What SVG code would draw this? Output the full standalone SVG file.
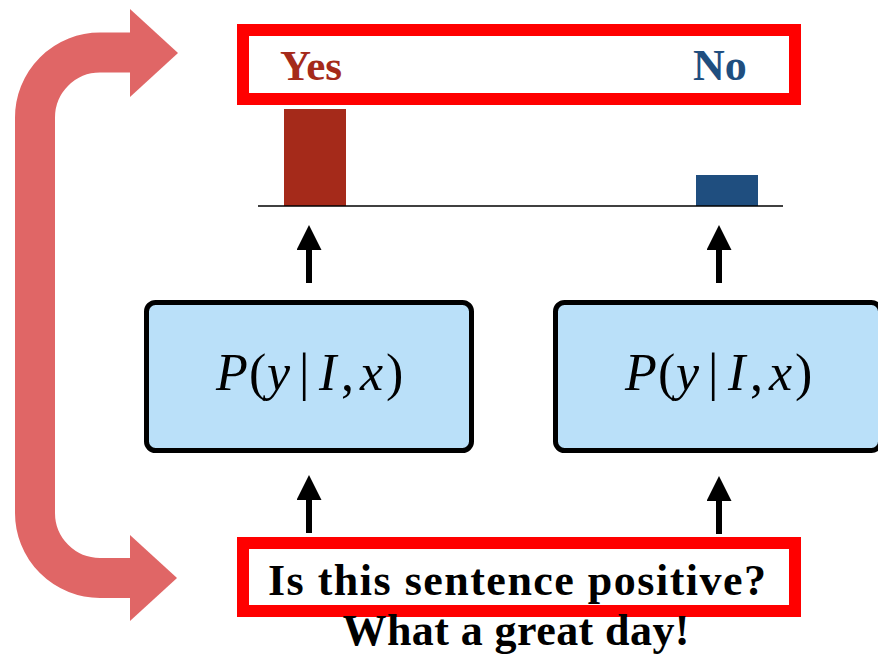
<svg xmlns="http://www.w3.org/2000/svg" width="878" height="654" viewBox="0 0 878 654">
<defs>
<style>
.redbox{fill:#fff;stroke:#ff0000;stroke-width:12}
.model{fill:#bae0f9;stroke:#000;stroke-width:5}
.bold{font-family:"Liberation Serif","Times New Roman",serif;font-weight:bold}
.math{font-family:"Liberation Serif","Times New Roman",serif;font-size:52px;fill:#000}
.it{font-style:italic}
.shaft{stroke:#000;stroke-width:6;fill:none}
.loop{stroke:#e06666;stroke-width:40;fill:none}
.loophead{fill:#e06666}
</style>
<marker id="ah" viewBox="0 0 25 25" refX="0" refY="12.5" markerWidth="25" markerHeight="25" markerUnits="userSpaceOnUse" orient="auto">
<path d="M0,0 L25,12.5 L0,25 z" fill="#000"/>
</marker>
</defs>
<rect width="878" height="654" fill="#fff"/>

<g id="connectors">
<path class="loop" d="M130,52.5 H100 A65,65 0 0 0 35,117.5 V513 A65,65 0 0 0 100,578 H130"/>
<path class="loophead" d="M130,9 L178,53 L130,97 z"/>
<path class="loophead" d="M130,535 L177,578 L130,621 z"/>
<line class="shaft" x1="309" y1="283" x2="309" y2="250" marker-end="url(#ah)"/>
<line class="shaft" x1="719" y1="283" x2="719" y2="250" marker-end="url(#ah)"/>
<line class="shaft" x1="309" y1="533" x2="309" y2="500" marker-end="url(#ah)"/>
<line class="shaft" x1="719" y1="534" x2="719" y2="501" marker-end="url(#ah)"/>
</g>

<g id="output">
<rect class="redbox" x="243" y="30" width="552" height="69"/>
<text class="bold" x="280" y="80" font-size="43" fill="#a52a1a">Yes</text>
<text class="bold" x="693" y="80" font-size="44" fill="#1f4e7f">No</text>
</g>

<g id="chart">
<rect x="284" y="109" width="62" height="97" fill="#a52a1a"/>
<rect x="696" y="175" width="62" height="31" fill="#1f4e7f"/>
<line x1="258" y1="206" x2="783" y2="206" stroke="#000" stroke-width="1.5"/>
</g>

<g id="model-left">
<rect class="model" x="146.5" y="302.5" width="325" height="148" rx="9"/>
<text class="math" y="390"><tspan class="it" x="216">P</tspan><tspan x="249">(</tspan><tspan class="it" x="267">y</tspan><tspan x="299">|</tspan><tspan class="it" x="319">I</tspan><tspan x="341">,</tspan><tspan class="it" x="360">x</tspan><tspan x="386">)</tspan></text>
</g>

<g id="model-right">
<rect class="model" x="555.5" y="302.5" width="325" height="148" rx="9"/>
<text class="math" y="390"><tspan class="it" x="625">P</tspan><tspan x="658">(</tspan><tspan class="it" x="676">y</tspan><tspan x="708">|</tspan><tspan class="it" x="728">I</tspan><tspan x="750">,</tspan><tspan class="it" x="769">x</tspan><tspan x="795">)</tspan></text>
</g>

<g id="input">
<rect class="redbox" x="243" y="543" width="552" height="68"/>
<text class="bold" x="517" y="595" font-size="44" text-anchor="middle" textLength="498" lengthAdjust="spacing">Is this sentence positive?</text>
<text class="bold" x="516" y="645" font-size="44" text-anchor="middle" textLength="347" lengthAdjust="spacing">What a great day!</text>
</g>
</svg>
